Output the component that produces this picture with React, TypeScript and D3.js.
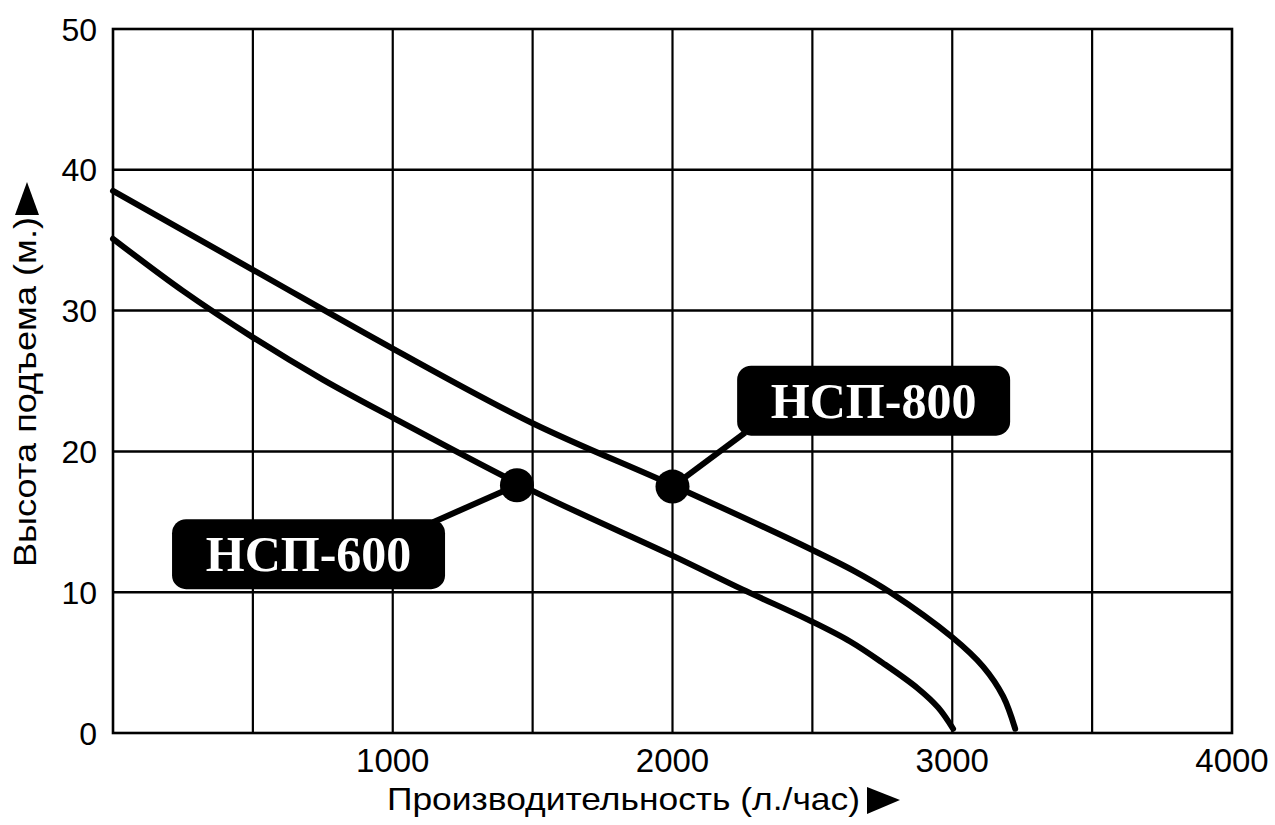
import React from 'react';
import * as d3 from 'd3';

// pump curves: [flow l/h, head m]
const nsp800: [number, number][] = [
  [0, 38.5], [500, 32.9], [1000, 27.3], [1500, 22.0], [2000, 17.6],
  [2500, 13.0], [2650, 11.5], [2778, 10], [3000, 6.8], [3111, 4.7], [3182, 2.6], [3225, 0.3]
];
const nsp600: [number, number][] = [
  [0, 35.1], [250, 31.4], [500, 28.1], [750, 25.1], [1000, 22.4], [1500, 17.2], [2000, 12.6],
  [2250, 10.2], [2500, 7.9], [2635, 6.5], [2750, 5.0], [2875, 3.2], [2950, 1.8], [3003, 0.3]
];

const xTicks = [1000, 2000, 3000, 4000];
const xGrid = [500, 1000, 1500, 2000, 2500, 3000, 3500];
const yTicks = [0, 10, 20, 30, 40, 50];

const xTitle = 'Производительность (л./час)';
const yTitle = 'Высота подъема (м.)';

// callouts: the marked point on the curve and where the label box sits (data units)
const callouts = [
  { name: 'НСП-800', at: [2000, 17.5], box: [2719, 23.6], corner: 'bl' },
  { name: 'НСП-600', at: [1444, 17.6], box: [699, 12.7], corner: 'tr' }
];

const W = 1275;
const H = 825;
const m = { left: 113, right: 43, top: 29, bottom: 92 };

const App: React.FC = () => {
  const x = d3.scaleLinear().domain([0, 4000]).range([m.left, W - m.right]);
  const y = d3.scaleLinear().domain([0, 50]).range([H - m.bottom, m.top]);

  const line = d3.line<[number, number]>()
    .x(d => x(d[0]))
    .y(d => y(d[1]))
    .curve(d3.curveCatmullRom.alpha(0.5));

  const bw = 273;
  const bh = 70;
  const sans = 'Liberation Sans, Arial, sans-serif';

  const x0 = x(0), x1 = x(4000), y0 = y(0), y1 = y(50);

  return (
    <div style={{ position: 'absolute', left: 0, top: 0 }}>
      <svg width={W} height={H} style={{ display: 'block', background: '#fff' }}>
        {/* grid */}
        {xGrid.map(v => (
          <line key={'gx' + v} x1={x(v)} x2={x(v)} y1={y1} y2={y0} stroke="#000" strokeWidth={2.2} />
        ))}
        {yTicks.slice(1, -1).map(v => (
          <line key={'gy' + v} x1={x0} x2={x1} y1={y(v)} y2={y(v)} stroke="#000" strokeWidth={2.5} />
        ))}
        <rect x={x0} y={y1} width={x1 - x0} height={y0 - y1} fill="none" stroke="#000" strokeWidth={2.6} />

        {/* tick labels */}
        {yTicks.map(v => (
          <text key={'ty' + v} x={97} y={y(v)} dy="0.36em" textAnchor="end"
            fontFamily={sans} fontSize={32}>{v}</text>
        ))}
        {xTicks.map(v => (
          <text key={'tx' + v} x={x(v)} y={760} dy="0.36em" textAnchor="middle"
            fontFamily={sans} fontSize={33}>{v}</text>
        ))}

        {/* axis titles */}
        <text x={387} y={810} fontFamily={sans} fontSize={32} textLength={473}
          lengthAdjust="spacingAndGlyphs">{xTitle}</text>
        <path d="M867,787 L900,800 L867,814 Z" fill="#000" />
        <g transform="translate(36,567) rotate(-90)">
          <text x={0} y={0} fontFamily={sans} fontSize={31} textLength={350}
            lengthAdjust="spacingAndGlyphs">{yTitle}</text>
          <path d="M352,-21 L385,-9 L352,3 Z" fill="#000" />
        </g>

        {/* curves */}
        <path d={line(nsp800) ?? ''} fill="none" stroke="#000" strokeWidth={6} strokeLinecap="round" />
        <path d={line(nsp600) ?? ''} fill="none" stroke="#000" strokeWidth={6} strokeLinecap="round" />

        {/* callouts */}
        {callouts.map(c => {
          const cx = x(c.box[0]);
          const cy = y(c.box[1]);
          const px = x(c.at[0]);
          const py = y(c.at[1]);
          const sx = c.corner === 'tr' ? cx + bw / 2 - 12 : cx - bw / 2 + 8;
          const sy = c.corner === 'tr' ? cy - bh / 2 + 3 : cy + bh / 2 - 3;
          return (
            <g key={c.name}>
              <line x1={sx} y1={sy} x2={px} y2={py} stroke="#000" strokeWidth={6} />
              <circle cx={px} cy={py} r={17} fill="#000" />
              <rect x={cx - bw / 2} y={cy - bh / 2} width={bw} height={bh} rx={14} fill="#000" />
              <text x={cx} y={cy} dy="0.34em" textAnchor="middle" fill="#fff"
                fontFamily="Liberation Serif, Times New Roman, serif" fontWeight="bold" fontSize={50}>
                {c.name}
              </text>
            </g>
          );
        })}
      </svg>
    </div>
  );
};

export default App;
